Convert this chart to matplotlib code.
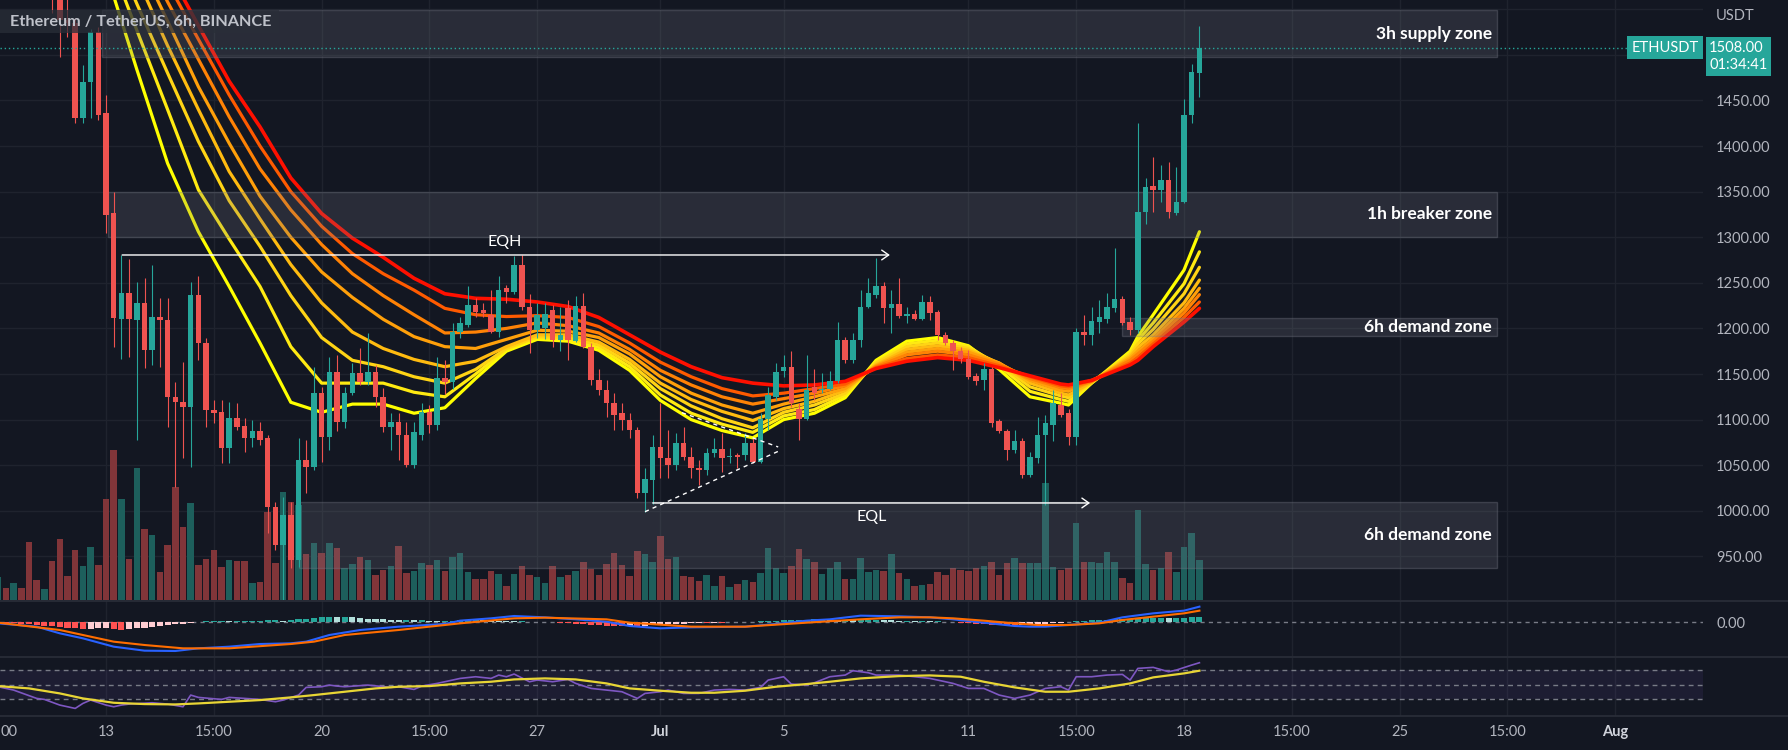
import matplotlib
matplotlib.use("Agg")
import matplotlib.pyplot as plt
import matplotlib.transforms as mtrans
from matplotlib.patches import Rectangle
from matplotlib.lines import Line2D
import numpy as np

plt.rcParams['font.family'] = ['Lato', 'DejaVu Sans']

# ------------------------------------------------------------------ data
# 6h candles, index 0 = 13 Jun 00:00, first bar index = -14
first_bar = -14
opens = [1745, 1760, 1742, 1755, 1730, 1660, 1645, 1652, 1590, 1538,
         1535, 1431, 1470, 1525, 1436, 1326, 1210, 1239, 1209, 1228,
         1176, 1212, 1209, 1125, 1119, 1114, 1237, 1184, 1110, 1108,
         1069, 1102, 1093, 1080, 1088, 1080, 1004, 962, 995, 946,
         1056, 1048, 1129, 1081, 1152, 1097, 1129, 1151, 1141, 1152,
         1125, 1092, 1097, 1083, 1050, 1083, 1108, 1094, 1146, 1141,
         1196, 1204, 1226, 1220, 1215, 1196, 1244, 1240, 1270, 1224,
         1198, 1200, 1220, 1187, 1222, 1186, 1225, 1180, 1143, 1133,
         1118, 1107, 1100, 1089, 1019, 1034, 1070, 1058, 1050, 1074,
         1059, 1047, 1045, 1063, 1068, 1059, 1061, 1061, 1074, 1054,
         1101, 1125, 1153, 1158, 1112, 1101, 1136, 1133, 1134, 1142,
         1187, 1165, 1187, 1224, 1237, 1246, 1222, 1227, 1214, 1216,
         1210, 1229, 1218, 1193, 1184, 1175, 1167, 1148, 1143, 1155,
         1098, 1087, 1067, 1077, 1039, 1058, 1083, 1094, 1116, 1107,
         1081, 1196, 1193, 1207, 1210, 1222, 1232, 1207, 1198, 1328,
         1356, 1352, 1363, 1326, 1339, 1434, 1480]
highs = [1770, 1768, 1765, 1760, 1738, 1672, 1660, 1660, 1600, 1562,
         1540, 1489, 1528, 1530, 1456, 1350, 1280.5, 1276, 1251, 1255,
         1269, 1233, 1233, 1141, 1163, 1251, 1258, 1190, 1121, 1121,
         1119, 1118, 1102, 1100, 1097, 1083, 1010, 1015, 1010, 1080,
         1078, 1158, 1136, 1169, 1171, 1136, 1162, 1178, 1195, 1160,
         1135, 1107, 1107, 1097, 1097, 1118, 1116, 1169, 1165, 1206,
         1213, 1246, 1233, 1228, 1242, 1257, 1248, 1279, 1280, 1238,
         1228, 1228, 1226, 1224, 1231, 1235, 1239, 1184, 1156, 1143,
         1129, 1118, 1107, 1092, 1047, 1083, 1118, 1089, 1085, 1092,
         1070, 1056, 1069, 1080, 1085, 1069, 1063, 1085, 1080, 1107,
         1136, 1162, 1171, 1175, 1118, 1171, 1156, 1151, 1153, 1207,
         1191, 1195, 1242, 1255, 1277, 1251, 1242, 1255, 1224, 1220,
         1237, 1235, 1220, 1196, 1187, 1180, 1176, 1151, 1162, 1158,
         1101, 1090, 1089, 1080, 1065, 1103, 1105, 1132, 1129, 1112,
         1200, 1215, 1224, 1231, 1239, 1288, 1235, 1213, 1425, 1365,
         1388, 1379, 1383, 1377, 1451, 1490, 1532]
lows = [1728, 1735, 1730, 1720, 1640, 1630, 1625, 1546, 1498, 1520,
        1425, 1425, 1431, 1428, 1305, 1180, 1167, 1169, 1078, 1157,
        1160, 1158, 1092, 1026, 1058, 1048, 1165, 1092, 1096, 1052,
        1052, 1089, 1064, 1070, 1072, 976, 957, 900, 937, 938,
        1019, 1045, 1054, 1067, 1088, 1091, 1127, 1138, 1138, 1114,
        1086, 1067, 1056, 1048, 1047, 1078, 1085, 1089, 1128, 1134,
        1190, 1202, 1213, 1213, 1195, 1191, 1228, 1238, 1220, 1173,
        1190, 1188, 1180, 1175, 1165, 1185, 1178, 1138, 1127, 1103,
        1089, 1089, 1080, 1014, 999, 1008, 1036, 1036, 1045, 1056,
        1036, 1028, 1039, 1059, 1043, 1052, 1047, 1056, 1052, 1052,
        1089, 1122, 1147, 1114, 1078, 1100, 1122, 1129, 1133, 1140,
        1162, 1162, 1180, 1222, 1233, 1206, 1195, 1211, 1206, 1209,
        1209, 1209, 1187, 1182, 1154, 1162, 1145, 1138, 1133, 1092,
        1085, 1056, 1063, 1036, 1037, 1052, 1006, 1076, 1103, 1072,
        1072, 1182, 1182, 1195, 1206, 1218, 1204, 1193, 1195, 1315,
        1328, 1339, 1321, 1324, 1337, 1425, 1454]
closes = [1760, 1742, 1755, 1730, 1660, 1645, 1652, 1590, 1538, 1535,
          1431, 1470, 1525, 1434, 1324, 1211, 1239, 1210, 1228, 1176,
          1212, 1209, 1125, 1119, 1114, 1237, 1184, 1110, 1107, 1069,
          1102, 1092, 1080, 1088, 1078, 1004, 962, 995, 946, 1056,
          1048, 1129, 1081, 1152, 1097, 1129, 1151, 1141, 1152, 1125,
          1092, 1097, 1083, 1050, 1086, 1108, 1094, 1146, 1141, 1196,
          1206, 1226, 1218, 1217, 1196, 1242, 1240, 1270, 1224, 1198,
          1215, 1216, 1187, 1193, 1187, 1225, 1180, 1143, 1133, 1118,
          1105, 1100, 1089, 1019, 1035, 1070, 1058, 1050, 1074, 1059,
          1047, 1045, 1063, 1068, 1058, 1060, 1059, 1074, 1054, 1101,
          1127, 1152, 1158, 1118, 1101, 1133, 1129, 1134, 1142, 1187,
          1165, 1187, 1224, 1239, 1246, 1222, 1227, 1214, 1216, 1210,
          1229, 1217, 1193, 1184, 1175, 1167, 1147, 1142, 1155, 1096,
          1087, 1067, 1076, 1039, 1059, 1083, 1096, 1118, 1105, 1081,
          1196, 1193, 1208, 1212, 1223, 1232, 1206, 1198, 1328, 1355,
          1352, 1363, 1328, 1339, 1434, 1481, 1508]
# volume (relative units)
volume = [23, 12, 17, 12, 58, 20, 11, 39, 61, 24,
          50, 34, 53, 35, 101, 150, 101, 41, 132, 71,
          65, 28, 55, 113, 73, 97, 35, 41, 50, 33,
          40, 39, 39, 17, 18, 88, 37, 108, 98, 95,
          46, 57, 47, 57, 52, 32, 36, 43, 40, 25,
          30, 34, 54, 27, 29, 37, 35, 40, 29, 43,
          47, 28, 21, 21, 29, 26, 14, 26, 34, 25,
          23, 17, 34, 23, 25, 29, 38, 31, 25, 36,
          47, 35, 24, 49, 46, 38, 64, 41, 43, 24,
          23, 19, 25, 14, 24, 13, 16, 20, 18, 27,
          52, 32, 27, 34, 51, 41, 38, 26, 32, 38,
          21, 21, 42, 28, 30, 29, 46, 27, 21, 14,
          15, 16, 28, 25, 32, 30, 29, 32, 34, 38,
          25, 37, 42, 37, 37, 37, 117, 33, 30, 32,
          77, 38, 38, 37, 48, 38, 22, 17, 90, 36,
          30, 32, 48, 28, 53, 67, 40]

# moving-average ribbon (fast -> slow), sampled at these bar indices
ribbon_bars = [0, 4, 8, 12, 16, 20, 24, 28, 32, 36, 40, 44, 48, 52, 56,
               60, 64, 68, 72, 76, 80, 84, 88, 92, 96, 100, 104, 108, 112,
               116, 120, 124, 125, 128, 133, 134, 136, 140, 142]
ma_1 = [1591, 1484, 1381, 1306, 1246, 1184, 1119, 1108, 1117, 1117, 1107, 1113, 1145, 1175, 1188,
        1186, 1176, 1154, 1121, 1100, 1088, 1080, 1100, 1107, 1124, 1165, 1186, 1190, 1181,
        1155, 1125, 1118, 1116, 1140, 1175, 1191, 1215, 1264, 1306]
ma_2 = [1615, 1527, 1440, 1352, 1298, 1246, 1180, 1140, 1140, 1140, 1130, 1125, 1150, 1177, 1190,
        1188, 1179, 1158, 1127, 1107, 1095, 1086, 1104, 1111, 1127, 1163, 1183, 1187, 1180,
        1159, 1131, 1122, 1120, 1140, 1173, 1187, 1206, 1249, 1284]
ma_3 = [1636, 1556, 1480, 1405, 1340, 1290, 1236, 1190, 1165, 1158, 1147, 1140, 1155, 1178, 1191,
        1190, 1182, 1162, 1134, 1115, 1101, 1091, 1108, 1116, 1129, 1162, 1180, 1184, 1178,
        1161, 1136, 1126, 1124, 1141, 1171, 1183, 1199, 1238, 1267]
ma_4 = [1661, 1585, 1510, 1440, 1372, 1320, 1270, 1228, 1196, 1178, 1166, 1158, 1164, 1180, 1193,
        1193, 1185, 1166, 1140, 1122, 1109, 1099, 1112, 1120, 1132, 1160, 1177, 1181, 1176,
        1162, 1140, 1129, 1127, 1141, 1169, 1179, 1193, 1228, 1253]
ma_5 = [1679, 1607, 1537, 1465, 1403, 1345, 1300, 1262, 1234, 1210, 1191, 1180, 1178, 1188, 1198,
        1197, 1190, 1172, 1147, 1129, 1116, 1107, 1117, 1125, 1134, 1159, 1174, 1178, 1174,
        1162, 1143, 1132, 1131, 1142, 1167, 1175, 1189, 1222, 1244]
ma_6 = [1694, 1626, 1558, 1495, 1432, 1375, 1330, 1292, 1260, 1236, 1215, 1195, 1196, 1200, 1206,
        1203, 1195, 1177, 1154, 1138, 1125, 1117, 1123, 1129, 1137, 1158, 1171, 1175, 1171,
        1161, 1145, 1135, 1134, 1142, 1165, 1172, 1186, 1217, 1237]
ma_7 = [1707, 1643, 1579, 1517, 1456, 1400, 1350, 1312, 1282, 1260, 1242, 1222, 1215, 1213, 1214,
        1212, 1202, 1184, 1163, 1147, 1134, 1126, 1129, 1134, 1139, 1157, 1167, 1171, 1168,
        1159, 1147, 1137, 1136, 1143, 1162, 1168, 1183, 1212, 1229]
ma_8 = [1714, 1654, 1594, 1532, 1471, 1421, 1365, 1326, 1299, 1278, 1255, 1238, 1233, 1232, 1229,
        1224, 1212, 1193, 1174, 1158, 1146, 1140, 1137, 1138, 1142, 1156, 1164, 1168, 1165,
        1157, 1148, 1139, 1138, 1143, 1160, 1165, 1180, 1207, 1222]

# MACD
macd_bars = [-14, -9, -6, -3, 1, 5, 9, 12, 16, 20, 24, 26, 29, 33, 38, 44, 46, 50, 53, 57,
             61, 65, 68, 72, 76, 83, 87, 91, 94, 98, 103, 107, 110, 114, 118, 120, 122, 125,
             129, 132, 136, 140, 142]
macd_line = [-4, -14, -34, -49, -74, -86, -87, -79, -74, -66, -64, -59, -39, -24, -14, -6, 4, 11,
             18, 14, 8, 1, -12, -19, -16, -14, -6, 4, 8, 19, 17, 14, 8, -2, -12, -14, -14, -9,
             -2, 14, 26, 34, 46]
signal_bars = [-14, -6, 1, 5, 10, 16, 24, 27, 31, 38, 46, 53, 57, 65, 68, 76, 83, 91, 98, 103,
               107, 110, 114, 118, 121, 125, 129, 132, 136, 140, 142]
signal_line = [-2, -24, -59, -69, -79, -79, -66, -59, -39, -24, -4, 11, 13, 8, -2, -14, -14, -2,
               8, 14, 14, 11, 4, -4, -9, -9, -4, 6, 16, 26, 34]
macd_hist = [-2, -3, -4, -5, -7, -9, -11, -13, -15, -17, -19, -21,
             -20, -19, -18,
             -21, -24,
             -22, -19, -17, -14, -12, -9, -7, -5, -3,
             1, 2, 3, 3, 2, 2, 3, 4, 4, 5, 5, 4, 6, 8,
             10, 12, 14, 16, 15, 16, 14, 12, 10,
             9, 8, 7, 6, 6, 5, 5, 4, 3, 3, 4, 5,
             6, 7, 6, 5,
             4, 3, 2, 2, 1, 1, 0, -1, -2,
             -3, -5, -7, -8, -10, -11, -12, -12, -11, -13, -12, -10, -8,
             -7, -6, -5, -4, -3, -3, -2, -2, -1, -1, 0,
             1, 2, 3, 4, 5, 6, 7,
             7, 8, 8, 7, 6, 6, 5, 5, 6, 7, 6, 5, 4,
             4, 3, 3, 2, 2, 1, 0,
             -2, -4, -5, -7, -8, -9, -10, -10, -9, -8, -6, -5, -3,
             -2, -1,
             2, 4, 5, 6, 7, 8, 8, 9, 10,
             11, 12, 12, 11, 12, 13, 14, 15]

# RSI
rsi_bars = [-14, -12, -9, -8, -6, -4, -3, -2, 0, 1, 2, 3, 6, 8, 10, 11, 12, 15, 16, 18,
            20, 22, 23, 25, 26, 28, 29, 30, 31, 34, 37, 38, 40, 41, 43, 44, 46, 48, 50, 51,
            52, 53, 55, 56, 58, 60, 61, 63, 65, 67, 69, 70, 72, 73, 75, 77, 79, 81, 83, 85,
            86, 88, 89, 91, 92, 94, 96, 97, 99, 100, 103, 105, 107, 110, 112, 114, 116, 117,
            118, 120, 122, 124, 125, 126, 128, 130, 132, 133, 134, 136, 138, 139, 141, 142]
rsi_vals = [47.6, 43.0, 31.5, 30.1, 22.3, 17.7, 24.6, 29.2, 22.3, 20.0, 22.3, 23.7, 25.5, 23.7,
            20.0, 36.1, 32.9, 30.1, 32.9, 31.5, 30.1, 26.9, 29.2, 36.1, 46.7, 47.6, 49.9, 48.5,
            47.6, 49.9, 46.7, 47.6, 43.9, 48.5, 52.2, 54.5, 59.1, 61.4, 59.1, 63.7, 61.4, 65.1,
            54.5, 56.8, 54.5, 57.7, 52.2, 45.3, 43.0, 40.7, 31.5, 38.4, 40.7, 43.0, 38.4, 38.4,
            43.0, 43.9, 43.0, 46.7, 56.8, 61.4, 51.3, 49.9, 53.1, 61.4, 63.7, 69.7, 66.9, 63.7,
            63.7, 61.4, 59.1, 52.2, 45.3, 45.3, 36.1, 33.8, 31.5, 36.1, 45.3, 47.6, 43.0, 61.4,
            61.4, 63.7, 64.6, 56.8, 72.9, 74.3, 68.3, 70.6, 77.5, 80.7]
rsi_ma_bars = [-14, -10, -6, -3, 1, 5, 9, 12, 16, 20, 24, 27, 31, 35, 38, 42, 46, 50, 53, 57,
               61, 65, 68, 72, 76, 79, 83, 87, 91, 94, 98, 103, 107, 111, 114, 118, 122, 125,
               129, 133, 136, 140, 142]
rsi_ma_vals = [48.5, 45.3, 38.4, 31.5, 25.5, 23.7, 23.2, 24.6, 26.9, 29.2, 32.9, 36.1, 40.7,
               45.3, 47.6, 48.5, 52.2, 54.5, 57.7, 59.1, 57.7, 52.2, 45.3, 42.1, 39.3, 39.3,
               42.1, 47.6, 51.3, 54.5, 59.1, 62.3, 63.2, 61.4, 54.5, 46.7, 40.7, 40.7, 45.3,
               52.2, 60.5, 66.0, 69.7]

# time axis
time_ticks = [0, 14, 28, 42, 56, 72, 88, 112, 126, 140, 154, 168, 182, 196]
time_labels = ['13', '15:00', '20', '15:00', '27', 'Jul', '5', '11', '15:00', '18',
               '15:00', '25', '15:00', 'Aug']
edge_label = '00'          # visible tail of the label cut by the left edge
price_ticks = [950, 1000, 1050, 1100, 1150, 1200, 1250, 1300, 1350, 1400, 1450, 1500, 1550]

# zones
zone_names = ['3h supply zone', '1h breaker zone', '6h demand zone', '6h demand zone']
zone_start = [-0.5, 0.3, 131.9, 25.0]
zone_end = [180.7, 180.7, 180.7, 180.7]
zone_low = [1497.6, 1300.5, 1191.7, 937.3]
zone_high = [1548.8, 1350.0, 1211.4, 1009.7]
zone_label_bar = 180.0

# equal highs / lows and wedge
eqh_price, eqh_from, eqh_to, eqh_label_bar, eqh_label_price = 1280.5, 2.1, 101.8, 51.8, 1295
eql_price, eql_from, eql_to, eql_label_bar, eql_label_price = 1008.6, 71.0, 127.8, 99.4, 993
wedge_upper_bars, wedge_upper_prices = [74.8, 87.3], [1107.6, 1070.0]
wedge_lower_bars, wedge_lower_prices = [70.0, 87.5], [999.0, 1066.0]

last_price = 1508.00
countdown = '01:34:41'
symbol = 'ETHUSDT'
title = 'Ethereum / TetherUS, 6h, BINANCE'

# ------------------------------------------------------------------ style
BG = '#131722'
GRID = '#1f232e'
UP, DN = '#26a69a', '#ef5350'
VOL_UP, VOL_DN = '#1d5f5c', '#813539'
TXT = '#b2b5be'
SEP = '#2a2e39'
ribbon_colors = ['#ffff00', '#ffea12', '#ffd415', '#ffbb10', '#ffa00a', '#ff8205', '#ff5a00', '#ff1000']

W, H = 1788, 750
fig = plt.figure(figsize=(W / 100, H / 100), dpi=100, facecolor=BG)
XL = (-13.766, 207.40)
plot_w = 1703 / W

main_rect = [0, 150 / H, plot_w, 600 / H]
vol_ax = fig.add_axes(main_rect, zorder=0)
ax = fig.add_axes(main_rect, zorder=1)
macd_ax = fig.add_axes([0, 94 / H, plot_w, 55 / H], zorder=1)
rsi_ax = fig.add_axes([0, 34 / H, plot_w, 58 / H], zorder=1)

for a in (vol_ax, ax, macd_ax, rsi_ax):
    a.set_xlim(*XL)
    a.set_facecolor(BG)
    for s in a.spines.values():
        s.set_visible(False)
ax.patch.set_alpha(0)

bars = np.arange(first_bar, first_bar + len(opens))
o, h, l, c = (np.array(v, float) for v in (opens, highs, lows, closes))
up = c >= o

# ---- volume pane (behind price)
vol_ax.set_ylim(0, 600)
vol_ax.set_xticks([]); vol_ax.set_yticks([])
for t in time_ticks:
    vol_ax.axvline(t, color=GRID, lw=1, zorder=0)
grid_tr = mtrans.blended_transform_factory(vol_ax.transAxes, ax.transData)
ax.set_ylim(902.2, 1560.1)
for p in price_ticks:
    vol_ax.plot([0, 1], [p, p], color=GRID, lw=1, transform=grid_tr, zorder=0)
vol_ax.bar(bars, volume, width=0.85, color=np.where(up, VOL_UP, VOL_DN), linewidth=0, zorder=1)

# ---- price pane
ax.set_xticks([])
ax.yaxis.tick_right()
ax.set_yticks(price_ticks)
ax.set_yticklabels([f'{p:.2f}' if p <= 1450 else '' for p in price_ticks])
ax.tick_params(axis='y', length=0, pad=9.4, labelsize=10.5, labelcolor=TXT)

ribbons = [ma_1, ma_2, ma_3, ma_4, ma_5, ma_6, ma_7, ma_8]
for i, (vals, col) in enumerate(zip(ribbons, ribbon_colors)):
    ax.plot(ribbon_bars, vals, color=col, lw=2.3 if i < 7 else 2.6, zorder=2 + i * 0.01,
            solid_joinstyle='round', solid_capstyle='round')

for nm, x0, x1, lo, hi in zip(zone_names, zone_start, zone_end, zone_low, zone_high):
    ax.add_patch(Rectangle((x0, lo), x1 - x0, hi - lo, facecolor=(0.47, 0.48, 0.53, 0.22),
                           edgecolor=(0.47, 0.48, 0.53, 0.35), lw=1, zorder=3))
    ax.text(zone_label_bar, (lo + hi) / 2, nm, ha='right', va='center', color='white',
            fontsize=12.5, fontweight='bold', zorder=7)

colors = np.where(up, UP, DN)
ax.vlines(bars, l, h, colors=colors, lw=0.8, zorder=4)
ax.bar(bars, np.maximum(np.abs(c - o), 1.0), bottom=np.minimum(o, c), width=0.72,
       color=colors, linewidth=0, zorder=4.1)

arrow_style = dict(arrowstyle='->,head_length=0.5,head_width=0.35', color='white', lw=1,
                   shrinkA=0, shrinkB=0)
ax.annotate('', xy=(eqh_to, eqh_price), xytext=(eqh_from, eqh_price), arrowprops=arrow_style, zorder=6)
ax.text(eqh_label_bar, eqh_label_price, 'EQH', ha='center', va='center', color='white', fontsize=11.5, zorder=6)
ax.annotate('', xy=(eql_to, eql_price), xytext=(eql_from, eql_price), arrowprops=arrow_style, zorder=6)
ax.text(eql_label_bar, eql_label_price, 'EQL', ha='center', va='center', color='white', fontsize=11.5, zorder=6)
ax.plot(wedge_upper_bars, wedge_upper_prices, color='white', lw=1, ls=(0, (3, 3)), zorder=6)
ax.plot(wedge_lower_bars, wedge_lower_prices, color='white', lw=1, ls=(0, (3, 3)), zorder=6)

ax.axhline(last_price, color=UP, lw=1, ls=(0, (1, 2)), zorder=5)

right_tr = mtrans.blended_transform_factory(ax.transAxes, ax.transData)
ax.annotate(symbol, xy=(1.0, last_price), xycoords=right_tr, xytext=(-3, 0), textcoords='offset points',
            ha='right', va='center', color='white', fontsize=10.5, annotation_clip=False,
            bbox=dict(boxstyle='square,pad=0.3', fc=UP, ec='none'), zorder=8)
ax.annotate(f'{last_price:.2f}\n{countdown}', xy=(1.0, last_price), xycoords=right_tr,
            xytext=(4.5, 4.6), textcoords='offset points', ha='left', va='top', color='white',
            fontsize=10.5, linespacing=1.25, annotation_clip=False,
            bbox=dict(boxstyle='square,pad=0.25', fc=UP, ec='none'), zorder=8)
ax.annotate('USDT', xy=(1.0, 1.0), xycoords='axes fraction', xytext=(9.4, -11.5),
            textcoords='offset points', ha='left', va='center', color=TXT, fontsize=10.5,
            annotation_clip=False)

# title box
ax.add_patch(Rectangle((0, 1 - 33 / 600), 279 / 1703, 23 / 600, transform=ax.transAxes,
                       facecolor=(0.16, 0.18, 0.22, 0.75), edgecolor='none', zorder=9))
ax.text(9.6 / 1703, 1 - 21.5 / 600, title, transform=ax.transAxes, ha='left', va='center',
        color='#bfc2ca', fontsize=11.7, fontweight='bold', zorder=10)

# ---- MACD pane
macd_ax.set_ylim(-102, 63)
for t in time_ticks:
    macd_ax.axvline(t, color=GRID, lw=1, zorder=0)
macd_ax.axhline(0, color='#787b86', lw=1, ls=(0, (3, 3)), zorder=0.5)
hist = np.array(macd_hist, float)
prev = np.concatenate([[hist[0]], hist[:-1]])
hcol = np.where(hist >= 0, np.where(hist >= prev, '#26a69a', '#b2dfdb'),
                np.where(hist <= prev, '#ff5252', '#ffcdd2'))
macd_ax.bar(bars, hist, width=0.78, color=hcol, linewidth=0, zorder=1)
macd_ax.plot(macd_bars, macd_line, color='#2962ff', lw=1.5, zorder=2)
macd_ax.plot(signal_bars, signal_line, color='#ff6d00', lw=1.5, zorder=2)
macd_ax.set_xticks([])
macd_ax.yaxis.tick_right()
macd_ax.set_yticks([0])
macd_ax.set_yticklabels(['0.00'])
macd_ax.tick_params(axis='y', length=0, pad=9.4, labelsize=10.5, labelcolor=TXT)

# ---- RSI pane
rsi_ax.set_ylim(7.24, 87.24)
for t in time_ticks:
    rsi_ax.axvline(t, color=GRID, lw=1, zorder=0)
rsi_ax.axhspan(30, 70, color='#7e57c2', alpha=0.1, lw=0, zorder=0.4)
for lvl in (70, 50, 30):
    rsi_ax.axhline(lvl, color='#787b86', lw=1, ls=(0, (3.5, 3)), zorder=0.5)
rsi_ax.plot(rsi_bars, rsi_vals, color='#7e57c2', lw=1.2, zorder=2)
rsi_ax.plot(rsi_ma_bars, rsi_ma_vals, color='#e8d535', lw=1.6, zorder=2)
rsi_ax.set_yticks([])
rsi_ax.set_xticks(time_ticks)
rsi_ax.set_xticklabels(time_labels)
rsi_ax.tick_params(axis='x', length=0, pad=6.5, labelsize=10.5, labelcolor=TXT)
for lbl in rsi_ax.get_xticklabels():
    if lbl.get_text() in ('Jul', 'Aug'):
        lbl.set_fontweight('bold')
        lbl.set_color('#d1d4dc')
rsi_ax.annotate(edge_label, xy=(0, 0), xycoords='axes fraction', xytext=(0.3, -6.5),
                textcoords='offset points', ha='left', va='top', color=TXT, fontsize=10.5,
                annotation_clip=False)

# pane separators
for yy in (600.5, 657, 716):
    fig.add_artist(Line2D([0, 1], [1 - yy / H] * 2, transform=fig.transFigure, color=SEP, lw=1.2))

fig.savefig('out.png', dpi=100, facecolor=BG)
